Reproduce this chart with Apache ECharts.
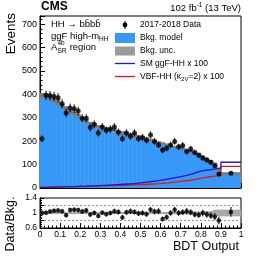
<!DOCTYPE html>
<html><head><meta charset="utf-8">
<script src="https://cdn.jsdelivr.net/npm/echarts@6/dist/echarts.min.js"></script>
<style>html,body{margin:0;padding:0;background:#fff}#c{width:269px;height:258px}</style>
</head><body><div id="c"></div>
<script>
// ---- data ----
const binEdges = [0, 0.02, 0.04, 0.06, 0.08, 0.1, 0.12, 0.14, 0.16, 0.18, 0.2, 0.22, 0.24, 0.26, 0.28, 0.3,
  0.32, 0.34, 0.36, 0.38, 0.4, 0.42, 0.44, 0.46, 0.48, 0.5, 0.52, 0.54, 0.56, 0.58, 0.6, 0.62, 0.64, 0.66,
  0.68, 0.7, 0.72, 0.74, 0.76, 0.78, 0.8, 0.82, 0.84, 0.86, 0.88, 0.9, 1.0];
const dataCounts = [210, 396, 395, 391, 386, 360, 320, 342, 339, 329, 298, 298, 258, 272, 235, 261, 247, 252,
  261, 238, 210, 235, 221, 235, 210, 216, 204, 227, 199, 184, 162, 170, 184, 199, 176, 182, 156, 167, 152,
  140, 128, 120, 110, 95, 60, 63];
const bkgModel = [395, 392, 385, 375, 365, 350, 340, 325, 318, 308, 295, 285, 275, 268, 262, 258, 254, 250,
  246, 240, 236, 232, 228, 225, 220, 215, 210, 205, 200, 194, 190, 185, 180, 175, 172, 168, 160, 155, 150,
  143, 133, 123, 113, 100, 80, 62];
const relUnc = [0.028, 0.028, 0.028, 0.028, 0.028, 0.028, 0.028, 0.028, 0.028, 0.028, 0.028, 0.028, 0.028,
  0.028, 0.028, 0.028, 0.028, 0.028, 0.028, 0.028, 0.03, 0.03, 0.03, 0.03, 0.03, 0.03, 0.03, 0.03,
  0.03, 0.03, 0.03, 0.03, 0.03, 0.03, 0.03, 0.03, 0.04, 0.04, 0.04, 0.04, 0.04, 0.045, 0.05,
  0.09, 0.09, 0.09];
const sigGGF = [2, 3, 3, 4, 4, 5, 5, 6, 6, 7, 7, 8, 9, 9, 10, 11, 12, 13, 14, 15, 16, 17, 18, 20, 22, 24, 26,
  28, 30, 33, 36, 39, 42, 45, 49, 52, 56, 60, 67, 72, 75, 77, 80, 83, 85, 110];
const sigVBF = [4, 4, 5, 5, 5, 6, 6, 6, 7, 7, 7, 8, 8, 8, 9, 9, 10, 10, 11, 11, 12, 12, 13, 13, 14, 15, 16,
  17, 18, 19, 21, 22, 24, 26, 28, 30, 32, 35, 38, 41, 44, 47, 50, 52, 53, 92];
const ratioVals = [1.0, 1.01, 1.04, 1.06, 1.07, 1.05, 0.94, 1.08, 1.09, 1.08, 1.04, 1.07, 0.96, 1.0, 0.92,
  1.01, 0.97, 1.0, 1.05, 1.03, 0.88, 1.02, 1.05, 1.03, 0.99, 1.0, 0.97, 1.09, 1.04, 1.05, 0.84, 0.89, 1.0,
  1.09, 1.0, 1.02, 1.05, 1.02, 0.96, 0.95, 1.0, 0.96, 0.93, 0.9, 0.8, 1.03];
const legendLabels = ['2017-2018 Data', 'Bkg. model', 'Bkg. unc.', 'SM ggF-HH x 100'];
const yMainMax = 735;

// ---- styles ----
const FONT = 'Liberation Sans, Arial, Helvetica, sans-serif';
const BLUE_FILL = '#3799f7';
const UNC_GRAY = '#7a7a7a';
const SIG_BLUE = '#1818d6';
const SIG_RED = '#f01010';

const nb = dataCounts.length;
const centers = dataCounts.map((_, i) => (binEdges[i] + binEdges[i + 1]) / 2);
const stepPts = arr => arr.map((v, i) => [binEdges[i], v]).concat([[binEdges[nb], arr[nb - 1]]]);

function rectItem(fill) {
  return function (params, api) {
    const x0 = api.value(0), x1 = api.value(1), lo = api.value(2), hi = api.value(3);
    const a = api.coord([x0, hi]);
    const b = api.coord([x1, lo]);
    return { type: 'rect', shape: { x: a[0], y: a[1], width: b[0] - a[0] + 0.4, height: b[1] - a[1] },
      style: { fill: fill } };
  };
}
function errItem(params, api) {
  const x = api.value(0), lo = api.value(1), hi = api.value(2);
  const a = api.coord([x, lo]), b = api.coord([x, hi]);
  return { type: 'line', shape: { x1: a[0], y1: a[1], x2: b[0], y2: b[1] },
    style: { stroke: '#000', lineWidth: 1 } };
}

const chart = echarts.init(document.getElementById('c'), null, { renderer: 'canvas' });

const axisTickCommon = { inside: true, length: 5, lineStyle: { color: '#000', width: 1 } };
const minorCommon = n => ({ show: true, splitNumber: n, length: 2.5, lineStyle: { color: '#000', width: 1 } });

const option = {
  animation: false,
  backgroundColor: '#fff',
  grid: [
    { left: 40, top: 16, width: 201, height: 172, show: true, borderColor: '#000', borderWidth: 1,
      backgroundColor: 'transparent', containLabel: false, outerBoundsMode: 'none' },
    { left: 40, top: 198, width: 201, height: 30, show: true, borderColor: '#000', borderWidth: 1,
      backgroundColor: 'transparent', containLabel: false, outerBoundsMode: 'none' }
  ],
  xAxis: [
    { gridIndex: 0, type: 'value', min: 0, max: 1, interval: 0.1,
      axisLine: { show: true, lineStyle: { color: '#000' } }, axisTick: axisTickCommon, minorTick: minorCommon(5),
      axisLabel: { show: false }, splitLine: { show: false } },
    { gridIndex: 1, type: 'value', min: 0, max: 1, interval: 0.1,
      axisLine: { show: true, lineStyle: { color: '#000' } }, axisTick: axisTickCommon, minorTick: minorCommon(5),
      axisLabel: { show: true, fontSize: 8.5, fontFamily: FONT, color: '#000', margin: 2,
        hideOverlap: false, showMinLabel: true, showMaxLabel: true },
      splitLine: { show: false } }
  ],
  yAxis: [
    { gridIndex: 0, type: 'value', min: 0, max: yMainMax, interval: 100,
      axisLine: { show: true, lineStyle: { color: '#000' } }, axisTick: axisTickCommon, minorTick: minorCommon(5),
      axisLabel: { show: true, fontSize: 9, fontFamily: FONT, color: '#000', margin: 3,
        hideOverlap: false, showMinLabel: true, showMaxLabel: true,
        formatter: v => (Math.round(v) % 100 === 0 ? String(Math.round(v)) : '') },
      splitLine: { show: false } },
    { gridIndex: 1, type: 'value', min: 0.6, max: 1.4, interval: 0.2,
      axisLine: { show: true, lineStyle: { color: '#000' } }, axisTick: { inside: true, length: 4, lineStyle: { color: '#000' } },
      minorTick: { show: true, splitNumber: 4, length: 2, lineStyle: { color: '#000' } },
      axisLabel: { show: true, fontSize: 8.5, fontFamily: FONT, color: '#000', margin: 3,
        hideOverlap: false, showMinLabel: true, showMaxLabel: true,
        formatter: v => (Math.abs(v - 1) < 1e-9 ? '1' : (+v).toFixed(1)) },
      splitLine: { show: true, showMinLine: false, showMaxLine: false, lineStyle: { color: '#777', type: [2, 2], width: 0.8 } } }
  ],
  series: [
    { type: 'custom', name: 'Bkg. model', xAxisIndex: 0, yAxisIndex: 0, silent: true, clip: true, z: 1,
      data: bkgModel.map((v, i) => [binEdges[i], binEdges[i + 1], 0, v]),
      renderItem: rectItem(BLUE_FILL) },
    { type: 'custom', name: 'Bkg. unc.', xAxisIndex: 0, yAxisIndex: 0, silent: true, clip: true, z: 2,
      data: bkgModel.map((v, i) => [binEdges[i], binEdges[i + 1], v * (1 - relUnc[i]), v * (1 + relUnc[i])]),
      renderItem: rectItem(UNC_GRAY) },
    { type: 'line', name: 'VBF', xAxisIndex: 0, yAxisIndex: 0, step: 'end', symbol: 'none', z: 3,
      data: stepPts(sigVBF), lineStyle: { color: SIG_RED, width: 1.3 } },
    { type: 'line', name: 'ggF', xAxisIndex: 0, yAxisIndex: 0, step: 'end', symbol: 'none', z: 4,
      data: stepPts(sigGGF), lineStyle: { color: SIG_BLUE, width: 1.3 } },
    { type: 'custom', name: 'err', xAxisIndex: 0, yAxisIndex: 0, silent: true, z: 5,
      data: dataCounts.map((n, i) => [centers[i], n - Math.sqrt(n), n + Math.sqrt(n)]),
      renderItem: errItem },
    { type: 'scatter', name: 'Data', xAxisIndex: 0, yAxisIndex: 0, z: 6, symbol: 'circle', symbolSize: 5,
      itemStyle: { color: '#000' }, data: dataCounts.map((n, i) => [centers[i], n]) },
    // ratio panel
    { type: 'custom', name: 'ratio unc', xAxisIndex: 1, yAxisIndex: 1, silent: true, clip: true, z: 1,
      data: relUnc.map((u, i) => [binEdges[i], binEdges[i + 1], 1 - u, 1 + u]),
      renderItem: rectItem('#a8a8a8') },
    { type: 'custom', name: 'ratio err', xAxisIndex: 1, yAxisIndex: 1, silent: true, z: 5,
      data: ratioVals.map((r, i) => [centers[i], r * (1 - 1 / Math.sqrt(dataCounts[i])), r * (1 + 1 / Math.sqrt(dataCounts[i]))]),
      renderItem: errItem },
    { type: 'scatter', name: 'ratio', xAxisIndex: 1, yAxisIndex: 1, z: 6, symbol: 'circle', symbolSize: 4.5,
      itemStyle: { color: '#000' }, data: ratioVals.map((r, i) => [centers[i], r]) }
  ],
  graphic: [
    { type: 'text', x: 41, y: 1, style: { text: 'CMS', font: 'bold 12px ' + FONT, fill: '#000' } },
    { type: 'text', x: 241, y: 8, style: { text: '{n|102 fb}{s|-1}{n| (13 TeV)}', textAlign: 'right', textVerticalAlign: 'middle',
        rich: { n: { fontSize: 9.5, fontFamily: FONT, fill: '#000', lineHeight: 12 },
                s: { fontSize: 6.5, fontFamily: FONT, fill: '#000', lineHeight: 12, verticalAlign: 'top' } } } },
    { type: 'text', x: 51, y: 24, style: { text: 'HH \u2192 bb\u0304bb\u0304', font: '9.5px ' + FONT, fill: '#000', textVerticalAlign: 'middle' } },
    { type: 'text', x: 51, y: 36, style: { text: '{n|ggF high-m}{s|HH}', textVerticalAlign: 'middle',
        rich: { n: { fontSize: 9.5, fontFamily: FONT, fill: '#000', lineHeight: 13 },
                s: { fontSize: 6.5, fontFamily: FONT, fill: '#000', lineHeight: 13, verticalAlign: 'bottom' } } } },
    { type: 'text', x: 51, y: 47, style: { text: 'A', font: '9.5px ' + FONT, fill: '#000', textVerticalAlign: 'middle' } },
    { type: 'text', x: 57.5, y: 43, style: { text: '4b', font: '6.5px ' + FONT, fill: '#000', textVerticalAlign: 'middle' } },
    { type: 'text', x: 57.5, y: 51, style: { text: 'SR', font: '6.5px ' + FONT, fill: '#000', textVerticalAlign: 'middle' } },
    { type: 'text', x: 67, y: 47, style: { text: ' region', font: '9.5px ' + FONT, fill: '#000', textVerticalAlign: 'middle' } },
    // axis titles
    { type: 'text', x: 11, y: 13, rotation: Math.PI / 2, style: { text: 'Events', font: '13.5px ' + FONT, fill: '#000', textAlign: 'right', textVerticalAlign: 'middle' } },
    { type: 'text', x: 11, y: 224, rotation: Math.PI / 2, style: { text: 'Data/Bkg.', font: '12.5px ' + FONT, fill: '#000', textAlign: 'center', textVerticalAlign: 'middle' } },
    { type: 'text', x: 239, y: 247, style: { text: 'BDT Output', font: '12.5px ' + FONT, fill: '#000', textAlign: 'right', textVerticalAlign: 'middle' } },
    // legend
    { type: 'line', shape: { x1: 125, y1: 21, x2: 125, y2: 29 }, style: { stroke: '#000', lineWidth: 1 } },
    { type: 'circle', shape: { cx: 125, cy: 25, r: 2.4 }, style: { fill: '#000' } },
    { type: 'text', x: 140, y: 25, style: { text: legendLabels[0], font: '8.5px ' + FONT, fill: '#000', textVerticalAlign: 'middle' } },
    { type: 'rect', shape: { x: 115, y: 33, width: 20, height: 10 }, style: { fill: BLUE_FILL } },
    { type: 'text', x: 140, y: 38, style: { text: legendLabels[1], font: '8.5px ' + FONT, fill: '#000', textVerticalAlign: 'middle' } },
    { type: 'rect', shape: { x: 115, y: 46.5, width: 20, height: 9 }, style: { fill: '#9a9a9a' } },
    { type: 'text', x: 140, y: 51, style: { text: legendLabels[2], font: '8.5px ' + FONT, fill: '#000', textVerticalAlign: 'middle' } },
    { type: 'line', shape: { x1: 115, y1: 63.5, x2: 135, y2: 63.5 }, style: { stroke: SIG_BLUE, lineWidth: 1.3 } },
    { type: 'text', x: 140, y: 63.5, style: { text: legendLabels[3], font: '8.5px ' + FONT, fill: '#000', textVerticalAlign: 'middle' } },
    { type: 'line', shape: { x1: 115, y1: 76.5, x2: 135, y2: 76.5 }, style: { stroke: SIG_RED, lineWidth: 1.3 } },
    { type: 'text', x: 140, y: 76.5, style: { text: '{n|VBF-HH (\u03ba}{s|2V}{n|=2) x 100}', textVerticalAlign: 'middle',
        rich: { n: { fontSize: 8.5, fontFamily: FONT, fill: '#000', lineHeight: 12 },
                s: { fontSize: 6, fontFamily: FONT, fill: '#000', lineHeight: 12, verticalAlign: 'bottom' } } } }
  ]
};
chart.setOption(option);
</script>
</body></html>
